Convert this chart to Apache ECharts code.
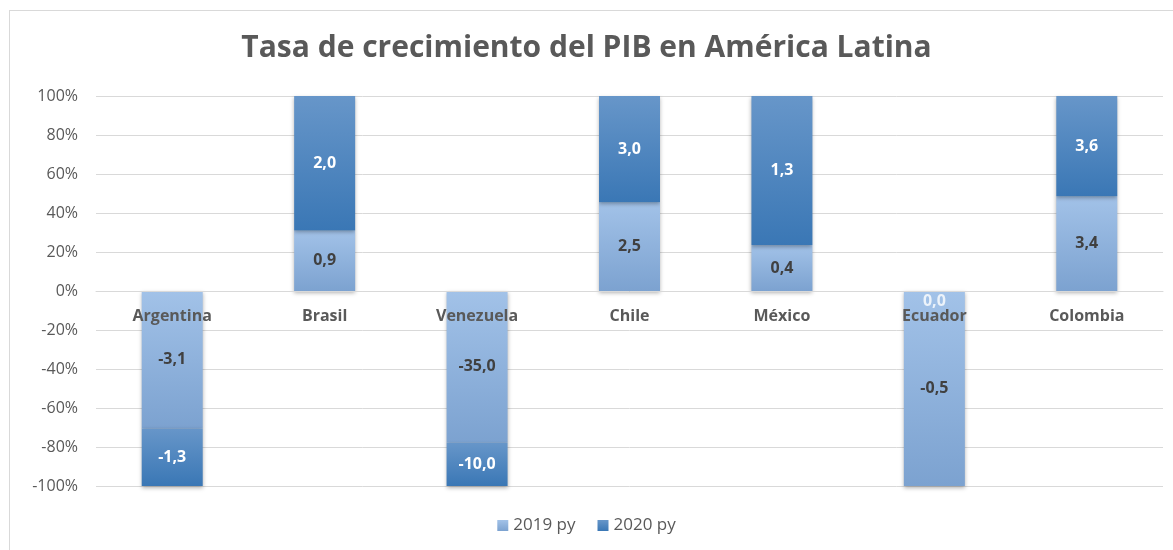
<!DOCTYPE html>
<html>
<head>
<meta charset="utf-8">
<script src="https://cdn.jsdelivr.net/npm/echarts@6/dist/echarts.min.js"></script>
<style>
  html, body { margin: 0; padding: 0; background: #fff; }
  .frame { position: absolute; left: 9px; top: 10px; width: 1170px; height: 545px; border: 1px solid #d9d9d9; box-sizing: border-box; }
  .chart { position: absolute; left: 0; top: 0; width: 1173px; height: 550px; }
</style>
</head>
<body>
<div class="frame"></div>
<div class="chart" id="chart"></div>
<script>
const paises = ["Argentina", "Brasil", "Venezuela", "Chile", "México", "Ecuador", "Colombia"];
const valores2019 = [-3.1, 0.9, -35.0, 2.5, 0.4, -0.5, 3.4];
const valores2020 = [-1.3, 2.0, -10.0, 3.0, 1.3, 0.0, 3.6];
const ticksY = [-100, -80, -60, -40, -20, 0, 20, 40, 60, 80, 100];

// 100% apilado: cada valor sobre la suma de valores absolutos del país
function porcentaje(arr, i) {
  const total = Math.abs(valores2019[i]) + Math.abs(valores2020[i]);
  return total === 0 ? 0 : (arr[i] / total) * 100;
}
const fmt = v => v.toFixed(1).replace(".", ",");
const fuente = "Open Sans";

const grad = (a, b) => new echarts.graphic.LinearGradient(0, 0, 0, 1, [
  { offset: 0, color: a }, { offset: 1, color: b }
]);

const chart = echarts.init(document.getElementById("chart"));
const option = {
  animation: false,
  title: {
    text: "Tasa de crecimiento del PIB en América Latina",
    left: "center",
    top: 28,
    textStyle: { fontFamily: fuente, fontSize: 30, fontWeight: "bold", color: "#595959" }
  },
  legend: {
    bottom: 11,
    left: "center",
    icon: "rect",
    itemWidth: 11,
    itemHeight: 11,
    itemGap: 22,
    textStyle: { fontFamily: fuente, fontSize: 17, color: "#595959" },
    data: ["2019 py", "2020 py"]
  },
  grid: { left: 96, right: 10, top: 96, bottom: 64 },
  xAxis: {
    type: "category",
    data: paises,
    offset: -195,
    z: 10,
    axisTick: { show: false },
    axisLine: { lineStyle: { color: "#d9d9d9" } },
    axisLabel: { margin: 17, fontFamily: fuente, fontSize: 16, fontWeight: "bold", color: "#595959" }
  },
  yAxis: {
    type: "value",
    min: ticksY[0],
    max: ticksY[ticksY.length - 1],
    interval: 20,
    axisLabel: { formatter: "{value}%", fontFamily: fuente, fontSize: 16, color: "#595959", margin: 18 },
    splitLine: { lineStyle: { color: "#d9d9d9" } },
    axisLine: { show: false },
    axisTick: { show: false }
  },
  series: [
    {
      name: "2019 py",
      type: "bar",
      stack: "total",
      barWidth: 61,
      itemStyle: {
        color: grad("#a2c2e8", "#7ca2d0"),
        shadowBlur: 4, shadowColor: "rgba(0,0,0,0.3)", shadowOffsetY: 2
      },
      label: {
        show: true, position: "inside",
        fontFamily: fuente, fontSize: 16, fontWeight: "bold", color: "#404040",
        formatter: p => fmt(valores2019[p.dataIndex])
      },
      data: valores2019.map((v, i) => porcentaje(valores2019, i))
    },
    {
      name: "2020 py",
      type: "bar",
      stack: "total",
      barWidth: 61,
      itemStyle: {
        color: grad("#6796c9", "#3a77b5"),
        shadowBlur: 4, shadowColor: "rgba(0,0,0,0.3)", shadowOffsetY: 2
      },
      label: {
        show: true, position: "inside",
        fontFamily: fuente, fontSize: 16, fontWeight: "bold", color: "#ffffff",
        formatter: p => (valores2020[p.dataIndex] === 0 ? "" : fmt(valores2020[p.dataIndex]))
      },
      data: valores2020.map((v, i) => porcentaje(valores2020, i))
    },
    {
      // etiqueta de los valores 0 (barra sin altura)
      name: "ceros",
      type: "scatter",
      symbolSize: 0,
      silent: true,
      z: 5,
      label: {
        show: true, position: "inside", offset: [0, 10],
        fontFamily: fuente, fontSize: 16, fontWeight: "bold", color: "#ffffff",
        formatter: p => fmt(valores2020[p.dataIndex])
      },
      data: valores2020.map(v => (v === 0 ? 0 : null))
    }
  ]
};
chart.setOption(option);
</script>
</body>
</html>
